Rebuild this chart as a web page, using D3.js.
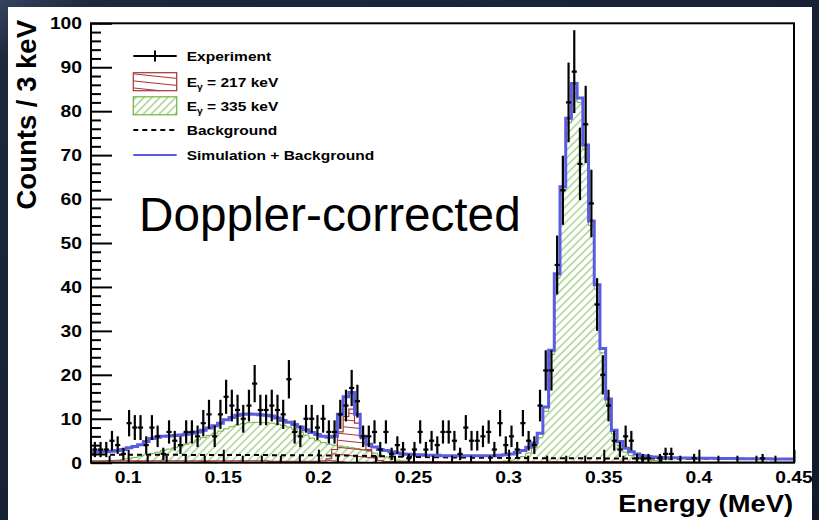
<!DOCTYPE html>
<html>
<head>
<meta charset="utf-8">
<script src="https://cdn.jsdelivr.net/npm/d3@7"></script>
<style>
  html, body { margin: 0; padding: 0; background: #172030; }
  svg { display: block; }
</style>
</head>
<body>
<svg id="chart" width="819" height="520"></svg>
<script>
// ---- Histogram binning (3 keV bins, energies in MeV) ----
const binStart = 0.081;
const binWidth = 0.003;

// Measured counts per bin
const counts = [
  3, 3, 3, 5, 4, 2, 9, 8, 8, 4,
  8, 6, 2, 7, 5, 4, 7, 7, 6, 9,
  11, 6, 11, 15, 13, 12, 10, 13, 18, 12,
  12, 13, 12, 11, 19, 7, 6, 10, 10, 8,
  10, 7, 7, 11, 13, 17, 14, 6, 6, 7,
  3, 7, 2, 4, 3, 1, 3, 7, 3, 5,
  4, 7, 7, 5, 2, 8, 5, 5, 6, 7,
  3, 9, 4, 6, 3, 9, 5, 4, 13, 21,
  21, 45, 62, 82, 89, 68, 77, 59, 36, 20,
  13, 5, 3, 6, 5, 1, 1, 1, 0, 1,
  2, 2, 0, 0, 0, 1, 0, 0, 0, 0,
  0, 0, 0, 0, 0, 0, 0, 1, 0, 0,
  0, 0, 0
];

// Simulated response to the 335 keV line
const sim335 = [
  0.2, 0.3, 0.4, 0.5, 0.6, 0.8, 1.0, 1.2, 1.5, 1.8,
  2.1, 2.4, 2.8, 3.1, 3.4, 3.8, 4.2, 4.7, 5.2, 5.7,
  6.2, 6.7, 7.2, 7.7, 8.2, 8.6, 8.9, 9.1, 9.2, 9.2,
  9.1, 9.0, 8.8, 8.5, 8.1, 7.6, 7.0, 6.3, 5.6, 5.0,
  4.6, 4.2, 4.0, 3.8, 3.6, 3.4, 3.2, 3.0, 2.6, 2.2,
  1.7, 1.3, 0.9, 0.6, 0.4, 0.3, 0.2, 0.15, 0.1, 0.1,
  0.1, 0.1, 0.1, 0.1, 0.1, 0.1, 0.1, 0.1, 0.1, 0.15,
  0.2, 0.3, 0.4, 0.6, 0.9, 1.4, 2.2, 3.5, 5.7, 11.7,
  24.6, 42, 61.8, 77.4, 85.3, 82, 71.3, 54, 39.5, 25,
  13.5, 6.5, 3.9, 2.4, 1.6, 1.1, 0.8, 0.6, 0.5, 0.4,
  0.3, 0.3, 0.2, 0.2, 0.2, 0.15, 0.15, 0.15, 0.15, 0.15,
  0.15, 0.15, 0.15, 0.15, 0.15, 0.15, 0.15, 0.15, 0.15, 0.15,
  0.15, 0.15, 0.15
];

// Simulated response to the 217 keV line
const sim217 = [
  0.4, 0.4, 0.4, 0.4, 0.4, 0.4, 0.4, 0.4, 0.4, 0.4,
  0.4, 0.4, 0.4, 0.4, 0.4, 0.4, 0.4, 0.4, 0.4, 0.4,
  0.4, 0.4, 0.4, 0.4, 0.4, 0.4, 0.4, 0.4, 0.4, 0.4,
  0.4, 0.3, 0.3, 0.3, 0.3, 0.3, 0.3, 0.3, 0.3, 0.3,
  0.4, 0.9, 3.0, 7.0, 10.5, 12.2, 9.0, 5.5, 3.0, 1.2,
  0.5, 0.25, 0.25, 0.25, 0.25, 0.25, 0.25, 0.25, 0.25, 0.25,
  0.25, 0.25, 0.25, 0.25, 0.25, 0.25, 0.25, 0.25, 0.25, 0.25,
  0.25, 0.25, 0.25, 0.25, 0.25, 0.25, 0.25, 0.25, 0.25, 0.25,
  0.25, 0.25, 0.25, 0.25, 0.25, 0.25, 0.25, 0.25, 0.25, 0.25,
  0.25, 0.25, 0.25, 0.25, 0.25, 0.25, 0.1, 0.1, 0.1, 0.1,
  0.1, 0.1, 0.1, 0.1, 0.1, 0.1, 0.1, 0.1, 0.1, 0.1,
  0.1, 0.1, 0.1, 0.1, 0.1, 0.1, 0.1, 0.1, 0.1, 0.1,
  0.1, 0.1, 0.1
];

// Total: simulation + background
const simTotal = [
  2.5, 2.5, 2.5, 2.6, 2.8, 3.0, 3.4, 3.7, 4.1, 4.8,
  5.5, 5.8, 6.0, 6.1, 6.2, 6.3, 6.5, 6.7, 7.0, 7.4,
  7.9, 8.4, 9.0, 9.8, 10.3, 10.8, 11.0, 11.1, 11.0, 10.9,
  10.8, 10.6, 10.2, 9.6, 9.2, 8.7, 8.1, 7.5, 6.9, 6.4,
  6.0, 5.8, 6.0, 11.0, 15.0, 16.0, 11.0, 6.0, 4.2, 3.6,
  3.0, 2.8, 2.5, 2.2, 2.0, 1.9, 1.8, 1.8, 1.7, 1.7,
  1.7, 1.6, 1.6, 1.6, 1.6, 1.6, 1.6, 1.6, 1.6, 1.6,
  1.6, 1.7, 1.8, 2.0, 2.3, 2.8, 3.5, 4.5, 6.7, 12.7,
  25.6, 43, 62.8, 78.4, 86.3, 83, 72.3, 55, 40.5, 26,
  14.5, 7.4, 4.8, 3.3, 2.5, 2.0, 1.6, 1.4, 1.3, 1.2,
  1.15, 1.1, 1.1, 1.05, 1.05, 1.0, 1.0, 1.0, 1.0, 0.95,
  0.95, 0.95, 0.95, 0.9, 0.9, 0.9, 0.9, 0.9, 0.9, 0.85,
  0.85, 0.85, 0.85
];

// Background model
const bgEnergy = [0.081, 0.10, 0.13, 0.16, 0.19, 0.22, 0.25, 0.28, 0.31, 0.34, 0.37, 0.40, 0.45];
const bgLevel  = [1.85, 1.82, 1.78, 1.75, 1.70, 1.60, 1.30, 1.15, 1.05, 1.00, 0.95, 0.90, 0.85];

// Axis ticks and labels
const xTicks = [0.1, 0.15, 0.2, 0.25, 0.3, 0.35, 0.4, 0.45];
const xTickLabels = ["0.1", "0.15", "0.2", "0.25", "0.3", "0.35", "0.4", "0.45"];
const yTicks = [0, 10, 20, 30, 40, 50, 60, 70, 80, 90, 100];
const yTickLabels = ["0", "10", "20", "30", "40", "50", "60", "70", "80", "90", "100"];

const legendLabels = ["Experiment", "217", "335", "Background", "Simulation + Background"];

// ---- Layout ----
const frame = { left: 91, right: 794, top: 23.3, bottom: 462.7 };
const x = d3.scaleLinear().domain([binStart, 0.45]).range([92, frame.right]);
const y = d3.scaleLinear().domain([0, 100]).range([frame.bottom, frame.top]);

const FONT = "'Liberation Sans', Arial, Helvetica, sans-serif";
const BLUE = "#5a5ddf", GREEN = "#6cb33f", RED = "#a83434";

const svg = d3.select("#chart");
const defs = svg.append("defs");

// slide background
const bgGrad = defs.append("linearGradient").attr("id", "slideBg")
  .attr("x1", "0").attr("y1", "0").attr("x2", "1").attr("y2", "1");
bgGrad.append("stop").attr("offset", "0").attr("stop-color", "#34435f");
bgGrad.append("stop").attr("offset", "0.06").attr("stop-color", "#1d283c");
bgGrad.append("stop").attr("offset", "1").attr("stop-color", "#121a29");
svg.append("rect").attr("width", 819).attr("height", 520).attr("fill", "url(#slideBg)");
svg.append("rect").attr("x", 8).attr("y", 7).attr("width", 804).attr("height", 513).attr("fill", "#fff");

// hatch patterns
const pg = defs.append("pattern").attr("id", "hatch335")
  .attr("patternUnits", "userSpaceOnUse").attr("width", 5.6).attr("height", 5.6)
  .attr("patternTransform", "rotate(45)");
pg.append("line").attr("x1", 2.8).attr("y1", 0).attr("x2", 2.8).attr("y2", 5.6)
  .attr("stroke", GREEN).attr("stroke-width", 0.9);

const pr = defs.append("pattern").attr("id", "hatch217")
  .attr("patternUnits", "userSpaceOnUse").attr("width", 7).attr("height", 7)
  .attr("patternTransform", "rotate(6)");
pr.append("line").attr("x1", 0).attr("y1", 3.5).attr("x2", 7).attr("y2", 3.5)
  .attr("stroke", RED).attr("stroke-width", 1);

defs.append("clipPath").attr("id", "frameClip")
  .append("rect").attr("x", frame.left).attr("y", frame.top)
  .attr("width", frame.right - frame.left).attr("height", frame.bottom - frame.top);

// step outline points for a histogram
function steps(values) {
  const pts = [];
  values.forEach((v, i) => {
    const lo = binStart + i * binWidth;
    pts.push([lo, v], [lo + binWidth, v]);
  });
  return pts;
}
const area = d3.area().x(d => x(d[0])).y0(y(0)).y1(d => y(d[1]));
const line = d3.line().x(d => x(d[0])).y(d => y(d[1]));

const plot = svg.append("g").attr("clip-path", "url(#frameClip)");

// 335 keV component
plot.append("path").attr("d", area(steps(sim335))).attr("fill", "url(#hatch335)");
plot.append("path").attr("d", line(steps(sim335))).attr("fill", "none")
  .attr("stroke", GREEN).attr("stroke-width", 1);

// 217 keV component
plot.append("path").attr("d", area(steps(sim217))).attr("fill", "url(#hatch217)");
plot.append("path").attr("d", line(steps(sim217))).attr("fill", "none")
  .attr("stroke", RED).attr("stroke-width", 1.2);

// background
plot.append("path")
  .attr("d", line(bgEnergy.map((e, i) => [e, bgLevel[i]])))
  .attr("fill", "none").attr("stroke", "#000").attr("stroke-width", 2)
  .attr("stroke-dasharray", "5,4");

// simulation + background
plot.append("path").attr("d", line(steps(simTotal))).attr("fill", "none")
  .attr("stroke", BLUE).attr("stroke-width", 3).attr("stroke-linejoin", "miter");

// ---- Frame and axes ----
svg.append("rect").attr("x", frame.left).attr("y", frame.top)
  .attr("width", frame.right - frame.left).attr("height", frame.bottom - frame.top)
  .attr("fill", "none").attr("stroke", "#000").attr("stroke-width", 2);

function styleAxis(g) {
  g.select(".domain").remove();
  g.selectAll(".tick line").attr("stroke", "#000").attr("stroke-width", 2);
  g.selectAll(".tick text").remove();
}
const yMinor = d3.range(0, 100.001, 2).filter(v => v % 10 !== 0);
svg.append("g").attr("transform", `translate(${frame.left},0)`)
  .call(d3.axisRight(y).tickValues(yTicks).tickSize(21)).call(styleAxis);
svg.append("g").attr("transform", `translate(${frame.left},0)`)
  .call(d3.axisRight(y).tickValues(yMinor).tickSize(10)).call(styleAxis);

const xMinor = d3.range(0.09, 0.4451, 0.01).filter(v => Math.abs(v * 20 - Math.round(v * 20)) > 1e-6);
svg.append("g").attr("transform", `translate(0,${frame.bottom})`)
  .call(d3.axisTop(x).tickValues(xTicks).tickSize(13)).call(styleAxis);
svg.append("g").attr("transform", `translate(0,${frame.bottom})`)
  .call(d3.axisTop(x).tickValues(xMinor).tickSize(7)).call(styleAxis);

// horizontally stretched bold text, like the exported canvas
function label(parent, px, py, str, size, anchor, sx) {
  return parent.append("text")
    .attr("transform", `translate(${px},${py}) scale(${sx},1)`)
    .attr("text-anchor", anchor)
    .attr("font-family", FONT).attr("font-weight", "bold")
    .attr("font-size", size).attr("fill", "#000")
    .text(str);
}

yTicks.forEach((t, i) => label(svg, 82, y(t) + 5.8, yTickLabels[i], 16.3, "end", 1.18));
xTicks.forEach((t, i) => label(svg, x(t), 483.3, xTickLabels[i], 16.3, "middle", 1.18));

label(svg, 793, 512, "Energy (MeV)", 24, "end", 1.14);
svg.append("text")
  .attr("transform", "translate(36,20) rotate(-90)")
  .attr("text-anchor", "end")
  .attr("font-family", FONT).attr("font-weight", "bold").attr("font-size", 27.5)
  .text("Counts / 3 keV");

// ---- Experimental points with statistical errors ----
const pts = svg.append("g").attr("stroke", "#000").attr("stroke-width", 2.2);
counts.forEach((n, i) => {
  if (n <= 0) return;
  const c = binStart + (i + 0.5) * binWidth;
  const err = Math.sqrt(n);
  pts.append("line").attr("x1", x(c)).attr("x2", x(c))
    .attr("y1", y(Math.max(0, n - err))).attr("y2", y(n + err));
  pts.append("line").attr("x1", x(c - binWidth * 0.45)).attr("x2", x(c + binWidth * 0.45))
    .attr("y1", y(n)).attr("y2", y(n));
});

// ---- Legend ----
const lg = svg.append("g");
const lx0 = 133.3, lx1 = 176.7, ltx = 186.7;
const rowY = [56, 81.7, 105.8, 130, 155];

lg.append("line").attr("x1", lx0).attr("x2", lx1).attr("y1", rowY[0]).attr("y2", rowY[0])
  .attr("stroke", "#000").attr("stroke-width", 2);
lg.append("line").attr("x1", (lx0 + lx1) / 2).attr("x2", (lx0 + lx1) / 2)
  .attr("y1", rowY[0] - 5.5).attr("y2", rowY[0] + 5.5).attr("stroke", "#000").attr("stroke-width", 2);

lg.append("rect").attr("x", lx0).attr("y", rowY[1] - 9).attr("width", lx1 - lx0).attr("height", 18)
  .attr("fill", "url(#hatch217)").attr("stroke", RED).attr("stroke-width", 1.2);
lg.append("rect").attr("x", lx0).attr("y", rowY[2] - 9).attr("width", lx1 - lx0).attr("height", 18)
  .attr("fill", "url(#hatch335)").attr("stroke", GREEN).attr("stroke-width", 1.2);

lg.append("line").attr("x1", lx0).attr("x2", lx1).attr("y1", rowY[3]).attr("y2", rowY[3])
  .attr("stroke", "#000").attr("stroke-width", 2).attr("stroke-dasharray", "5,4");
lg.append("line").attr("x1", lx0).attr("x2", lx1).attr("y1", rowY[4]).attr("y2", rowY[4])
  .attr("stroke", BLUE).attr("stroke-width", 2);

const legendSize = 13.5, legendSx = 1.15;
label(lg, ltx, rowY[0] + 5, legendLabels[0], legendSize, "start", legendSx);
[1, 2].forEach(k => {
  const t = label(lg, ltx, rowY[k] + 5, "", legendSize, "start", legendSx);
  t.append("tspan").text("E");
  t.append("tspan").attr("font-size", 9).attr("dy", 3).text("\u03b3");
  t.append("tspan").attr("dy", -3).text(` = ${legendLabels[k]} keV`);
});
label(lg, ltx, rowY[3] + 5, legendLabels[3], legendSize, "start", legendSx);
label(lg, ltx, rowY[4] + 5, legendLabels[4], legendSize, "start", legendSx);

// ---- Annotation ----
svg.append("text").attr("x", 139).attr("y", 231)
  .attr("font-family", FONT).attr("font-size", 47.7).attr("fill", "#000")
  .text("Doppler-corrected");
</script>
</body>
</html>
